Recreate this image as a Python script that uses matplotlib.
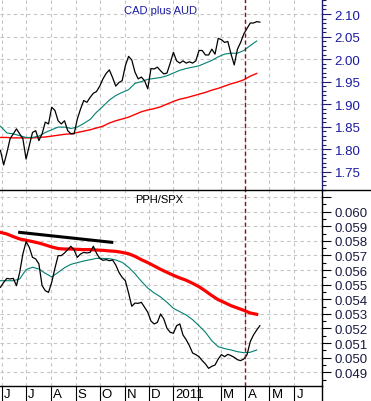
import numpy as np
import pandas as pd
import matplotlib
matplotlib.use('Agg')
import matplotlib.pyplot as plt
import matplotlib.dates as mdates
from matplotlib.ticker import MultipleLocator, FormatStrFormatter, FuncFormatter
from matplotlib.lines import Line2D
from matplotlib.transforms import ScaledTranslation

plt.rcParams['font.family'] = ['Liberation Sans', 'DejaVu Sans']

# Dates of the readings (price every 4 days, averages every 8 days)
price_dates = pd.date_range('2010-05-30', periods=82, freq='4D')
ma_dates = pd.date_range('2010-05-30', periods=41, freq='8D')

# CAD plus AUD
cad_aud = [1.797, 1.765, 1.792, 1.823, 1.834, 1.845, 1.834, 1.823, 1.778, 1.808,
           1.837, 1.841, 1.819, 1.834, 1.860, 1.856, 1.893, 1.886, 1.863, 1.856,
           1.863, 1.841, 1.834, 1.834, 1.867, 1.889, 1.908, 1.904, 1.915, 1.924,
           1.928, 1.940, 1.956, 1.968, 1.976, 1.959, 1.940, 1.948, 1.952, 1.985,
           2.006, 1.998, 1.971, 1.956, 1.960, 1.952, 1.934, 1.979, 1.978, 1.982,
           1.974, 1.967, 1.969, 1.991, 2.015, 1.996, 1.991, 1.996, 1.991, 1.994,
           1.991, 1.996, 2.019, 2.019, 2.009, 2.009, 2.022, 2.011, 2.046, 2.043,
           2.037, 2.039, 2.011, 1.987, 2.022, 2.037, 2.056, 2.068, 2.080, 2.080,
           2.083, 2.082]
cad_aud_fast = [1.851, 1.836, 1.834, 1.830, 1.826, 1.826, 1.829, 1.837, 1.843, 1.849,
                1.849, 1.846, 1.849, 1.857, 1.866, 1.882, 1.895, 1.909, 1.919, 1.926,
                1.932, 1.946, 1.950, 1.955, 1.957, 1.959, 1.963, 1.969, 1.975, 1.979,
                1.982, 1.985, 1.991, 1.997, 2.005, 2.011, 2.013, 2.013, 2.019, 2.030,
                2.040]
cad_aud_slow = [1.826, 1.826, 1.825, 1.825, 1.825, 1.825, 1.826, 1.827, 1.829, 1.831,
                1.833, 1.834, 1.837, 1.840, 1.843, 1.847, 1.851, 1.858, 1.863, 1.867,
                1.871, 1.877, 1.883, 1.887, 1.890, 1.894, 1.900, 1.906, 1.911, 1.914,
                1.918, 1.922, 1.926, 1.931, 1.935, 1.940, 1.945, 1.949, 1.954, 1.962,
                1.968]

# PPH/SPX
pph_spx = [0.05482, 0.05516, 0.05543, 0.05539, 0.05543, 0.05493, 0.05584, 0.05710, 0.05795, 0.05756,
           0.05687, 0.05676, 0.05642, 0.05493, 0.05459, 0.05447, 0.05516, 0.05612, 0.05699, 0.05699,
           0.05717, 0.05740, 0.05763, 0.05737, 0.05687, 0.05710, 0.05721, 0.05717, 0.05721, 0.05763,
           0.05715, 0.05680, 0.05667, 0.05671, 0.05664, 0.05669, 0.05635, 0.05584, 0.05550, 0.05527,
           0.05443, 0.05352, 0.05374, 0.05372, 0.05379, 0.05345, 0.05311, 0.05251, 0.05231, 0.05242,
           0.05299, 0.05265, 0.05201, 0.05174, 0.05167, 0.05219, 0.05231, 0.05155, 0.05123, 0.05082,
           0.05032, 0.05021, 0.05007, 0.04980, 0.04957, 0.04927, 0.04941, 0.04950, 0.04991, 0.05021,
           0.05007, 0.05023, 0.05014, 0.05002, 0.04986, 0.04980, 0.04991, 0.05021, 0.05110, 0.05155,
           0.05189, 0.05219]
pph_fast = [0.05527, 0.05527, 0.05527, 0.05539, 0.05603, 0.05619, 0.05607, 0.05578, 0.05553, 0.05584,
            0.05616, 0.05639, 0.05651, 0.05662, 0.05671, 0.05680, 0.05680, 0.05678, 0.05669, 0.05653,
            0.05619, 0.05575, 0.05523, 0.05477, 0.05443, 0.05416, 0.05379, 0.05338, 0.05315, 0.05292,
            0.05260, 0.05219, 0.05174, 0.05116, 0.05075, 0.05062, 0.05053, 0.05041, 0.05034, 0.05037,
            0.05053]
pph_slow = [0.05858, 0.05847, 0.05829, 0.05813, 0.05804, 0.05795, 0.05785, 0.05772, 0.05758, 0.05747,
            0.05744, 0.05744, 0.05742, 0.05740, 0.05740, 0.05737, 0.05735, 0.05731, 0.05728, 0.05721,
            0.05712, 0.05694, 0.05671, 0.05651, 0.05628, 0.05605, 0.05584, 0.05564, 0.05546, 0.05530,
            0.05509, 0.05486, 0.05457, 0.05425, 0.05397, 0.05377, 0.05356, 0.05340, 0.05324, 0.05306,
            0.05297]
trend_dates = pd.to_datetime(['2010-06-23', '2010-10-16'])
trend_values = [0.05858, 0.05790]

marker_date = pd.Timestamp('2011-04-01')
month_ticks = pd.date_range('2010-06-01', '2011-06-01', freq='MS')
month_labels = ['J', 'J', 'A', 'S', 'O', 'N', 'D', '2011', '', 'M', 'A', 'M', 'J']

navy = '#1f1f70'
blue_text = '#1a1aa0'
teal = '#008070'
grid_kw = dict(color='#c4c4c4', linestyle=(0, (3, 3)), linewidth=0.8)

fig = plt.figure(figsize=(3.71, 4.02), dpi=100)
ax1 = fig.add_axes([0, 0.5256, 0.8666, 0.4744])
ax2 = fig.add_axes([0, 0.0381, 0.8666, 0.4876], sharex=ax1)

# Top panel
ax1.plot(ma_dates, cad_aud_slow, color='#ff0000', linewidth=1.0)
ax1.plot(ma_dates, cad_aud_fast, color=teal, linewidth=0.8)
ax1.plot(price_dates, cad_aud, color='black', linewidth=0.9)
ax1.set_ylim(1.710, 2.1333)
ax1.yaxis.set_major_locator(MultipleLocator(0.05))
ax1.yaxis.set_minor_locator(MultipleLocator(0.01))
ax1.yaxis.set_major_formatter(FormatStrFormatter('%.2f'))
ax1.text(0.5, 0.942, 'CAD plus AUD', transform=ax1.transAxes, ha='center', va='center',
         fontsize=8, color=blue_text)

# Bottom panel
ax2.plot(ma_dates, pph_slow, color='#ff0000', linewidth=2.3)
ax2.plot(ma_dates, pph_fast, color=teal, linewidth=0.8)
ax2.plot(price_dates, pph_spx, color='black', linewidth=0.9)
ax2.plot(trend_dates, trend_values, color='black', linewidth=2.2)
ax2.set_ylim(0.048082, 0.061505)
ax2.yaxis.set_major_locator(MultipleLocator(0.001))
ax2.yaxis.set_minor_locator(MultipleLocator(0.0005))
ax2.yaxis.set_major_formatter(FuncFormatter(lambda v, p: '' if v > 0.0605 else '%.3f' % v))
ax2.text(0.495, 0.953, 'PPH/SPX', transform=ax2.transAxes, ha='center', va='center',
         fontsize=8, color='black')

for ax, spine_col, lab_col in [(ax1, navy, blue_text), (ax2, 'black', '#1a1a40')]:
    ax.set_xlim(pd.Timestamp('2010-05-29 10:00'), pd.Timestamp('2011-07-05'))
    ax.xaxis.set_major_locator(mdates.MonthLocator())
    ax.grid(True, which='major', **grid_kw)
    ax.axvline(marker_date, color='#8b1010', linestyle=(0, (3, 2)), linewidth=1.0)
    ax.yaxis.tick_right()
    ax.tick_params(axis='y', which='major', direction='out', length=6.5, width=0.8,
                   color=spine_col, labelcolor=lab_col, labelsize=9.5, pad=3)
    ax.tick_params(axis='y', which='minor', direction='out', length=3, width=0.8, color=spine_col)
    for side in ['left', 'top', 'bottom']:
        ax.spines[side].set_visible(False)
    ax.spines['right'].set_color(spine_col)
    ax.spines['right'].set_linewidth(1.0)

ax1.tick_params(axis='x', which='both', length=0, labelbottom=False)

# Month labels sit to the right of their tick marks
ax2.set_xticks(month_ticks)
ax2.set_xticklabels(month_labels)
ax2.tick_params(axis='x', direction='out', length=11, width=0.8, color='black',
                labelsize=9.5, pad=-9)
for lbl in ax2.get_xticklabels():
    lbl.set_horizontalalignment('left')
    lbl.set_transform(lbl.get_transform() + ScaledTranslation(1.5 / 72, 0, fig.dpi_scale_trans))

# Panel frame lines
fig.add_artist(Line2D([0, 1], [0.5256, 0.5256], color='black', linewidth=1.0))
fig.add_artist(Line2D([0, 0.8666], [0.0381, 0.0381], color='black', linewidth=1.0))
fig.add_artist(Line2D([0.8666, 0.8666], [0, 0.0381], color='black', linewidth=1.0))

plt.savefig('out.png', dpi=100)
plt.close()
